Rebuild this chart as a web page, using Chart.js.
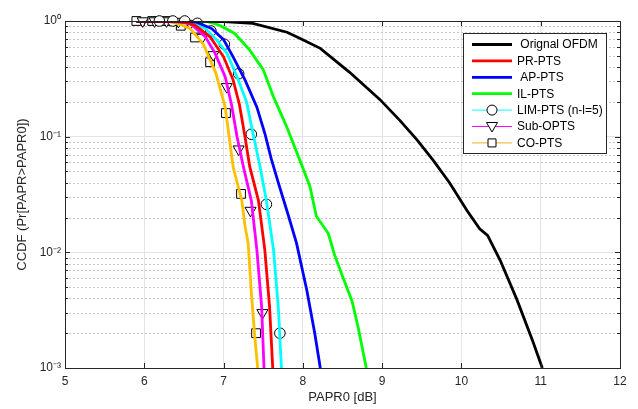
<!DOCTYPE html>
<html>
<head>
<meta charset="utf-8">
<script src="https://cdn.jsdelivr.net/npm/chart.js@4/dist/chart.umd.min.js"></script>
<style>
  html, body { margin: 0; padding: 0; background: #fff; }
</style>
</head>
<body>
<canvas id="myChart" width="638" height="409"></canvas>
<script>
// curves (x = PAPR0 in dB, y = CCDF)
const origX = [5.9, 6.6, 7.0, 7.37, 7.8, 7.96, 8.22, 8.59, 8.97, 9.22, 9.44, 9.64, 9.85, 10.07, 10.23, 10.33, 10.49, 10.7, 10.9, 11.02];
const origY = [1, 1, 0.99, 0.955, 0.8, 0.71, 0.58, 0.36, 0.21, 0.139, 0.094, 0.063, 0.04, 0.023, 0.016, 0.014, 0.0085, 0.0039, 0.0017, 0.001];

const prX = [5.9, 6.45, 6.64, 6.83, 7.0, 7.12, 7.2, 7.27, 7.33, 7.44, 7.52, 7.58, 7.62];
const prY = [1, 0.99, 0.92, 0.73, 0.49, 0.31, 0.19, 0.1, 0.055, 0.028, 0.0105, 0.0034, 0.001];

const apX = [5.9, 6.65, 6.85, 7.0, 7.12, 7.27, 7.42, 7.52, 7.6, 7.69, 7.82, 7.92, 8.05, 8.15, 8.22];
const apY = [1, 0.98, 0.86, 0.69, 0.49, 0.31, 0.18, 0.107, 0.065, 0.04, 0.0205, 0.012, 0.0047, 0.002, 0.001];

const ilX = [5.9, 6.79, 6.95, 7.14, 7.33, 7.5, 7.63, 7.72, 7.8, 7.96, 8.09, 8.17, 8.32, 8.4, 8.5, 8.62, 8.7, 8.8];
const ilY = [1, 0.99, 0.92, 0.78, 0.56, 0.38, 0.22, 0.16, 0.12, 0.063, 0.037, 0.0205, 0.0146, 0.0095, 0.0062, 0.0038, 0.0022, 0.001];

const limX = [5.9, 6.55, 6.77, 6.91, 7.04, 7.17, 7.29, 7.38, 7.46, 7.54, 7.63, 7.69, 7.73];
const limY = [1, 0.99, 0.86, 0.69, 0.53, 0.33, 0.2, 0.1, 0.055, 0.028, 0.0105, 0.0034, 0.001];
const limMarkX = [6.19, 6.36, 6.51, 6.67, 6.84, 7.01, 7.19, 7.35, 7.54, 7.71];
const limMarkY = [1, 1, 1, 0.955, 0.82, 0.63, 0.35, 0.105, 0.026, 0.002];

const subX = [5.9, 6.4, 6.58, 6.77, 6.89, 7.02, 7.1, 7.17, 7.25, 7.35, 7.42, 7.48, 7.51];
const subY = [1, 0.995, 0.95, 0.73, 0.53, 0.33, 0.19, 0.1, 0.055, 0.028, 0.0105, 0.0034, 0.001];
const subMarkX = [5.98, 6.13, 6.28, 6.43, 6.58, 6.73, 6.87, 7.04, 7.19, 7.34, 7.49];
const subMarkY = [1, 1, 1, 0.99, 0.95, 0.72, 0.51, 0.27, 0.078, 0.023, 0.003];

const coX = [5.9, 6.3, 6.46, 6.58, 6.65, 6.74, 6.83, 6.9, 6.95, 7.02, 7.07, 7.12, 7.18, 7.23, 7.27, 7.31, 7.35, 7.39, 7.43];
const coY = [1, 0.995, 0.93, 0.86, 0.75, 0.64, 0.46, 0.36, 0.27, 0.18, 0.1, 0.055, 0.038, 0.028, 0.017, 0.012, 0.0045, 0.002, 0.001];
const coMarkX = [5.9, 6.1, 6.28, 6.46, 6.64, 6.83, 7.03, 7.22, 7.41];
const coMarkY = [1, 1, 1, 0.91, 0.72, 0.44, 0.16, 0.032, 0.002];

const xTicks = [5, 6, 7, 8, 9, 10, 11, 12];
const yDecades = [-3, -2, -1, 0];

const pts = (xs, ys) => xs.map((x, i) => ({ x: x, y: ys[i] }));

const FONT = "'Liberation Sans', Arial, Helvetica, sans-serif";
const AXIS = "#262626";

function lineSet(label, xs, ys, color) {
  return {
    label: label,
    data: pts(xs, ys),
    borderColor: color,
    backgroundColor: color,
    borderWidth: 2.8,
    pointRadius: 0,
    tension: 0,
  };
}

function markSet(label, xs, ys, style, r, rot) {
  return {
    label: label,
    data: pts(xs, ys),
    showLine: false,
    pointStyle: style,
    pointRadius: r,
    pointRotation: rot || 0,
    pointBackgroundColor: "#fff",
    pointBorderColor: "#000",
    pointBorderWidth: 1,
    clip: false,
  };
}

const legendItems = [
  { text: " Orignal OFDM", color: "#000", width: 2.8 },
  { text: "PR-PTS", color: "#ff0000", width: 2.8 },
  { text: " AP-PTS", color: "#0000ff", width: 2.8 },
  { text: "IL-PTS", color: "#00ff00", width: 2.8 },
  { text: "LIM-PTS (n-l=5)", color: "#00ffff", width: 1, marker: "circle" },
  { text: "Sub-OPTS", color: "#ff00ff", width: 1, marker: "triangle" },
  { text: "CO-PTS", color: "#edb120", width: 1, marker: "rect" },
];

function drawMarker(ctx, kind, x, y) {
  ctx.save();
  ctx.fillStyle = "#fff";
  ctx.strokeStyle = "#000";
  ctx.lineWidth = 1;
  ctx.beginPath();
  if (kind === "circle") {
    ctx.arc(x, y, 5, 0, Math.PI * 2);
  } else if (kind === "triangle") {
    ctx.moveTo(x - 5.5, y - 4);
    ctx.lineTo(x + 5.5, y - 4);
    ctx.lineTo(x, y + 5.5);
    ctx.closePath();
  } else {
    ctx.rect(x - 4, y - 4, 8, 8);
  }
  ctx.fill();
  ctx.stroke();
  ctx.restore();
}

const isMajor = (v) => Math.abs(Math.log10(v) - Math.round(Math.log10(v))) < 1e-9;

const framePlugin = {
  id: "frame",
  beforeDatasetsDraw(chart) {
    // dotted minor grid on the log axis
    const { ctx, chartArea: a, scales } = chart;
    ctx.save();
    ctx.strokeStyle = "#c8c8c8";
    ctx.lineWidth = 1;
    ctx.setLineDash([2, 2]);
    scales.y.ticks.forEach((t) => {
      if (isMajor(t.value)) return;
      const py = Math.round(scales.y.getPixelForValue(t.value)) + 0.5;
      ctx.beginPath();
      ctx.moveTo(a.left, py);
      ctx.lineTo(a.right, py);
      ctx.stroke();
    });
    ctx.restore();
  },
  afterDatasetsDraw(chart) {
    const { ctx, chartArea: a, scales } = chart;
    ctx.save();
    ctx.strokeStyle = AXIS;
    ctx.lineWidth = 1;
    ctx.setLineDash([]);
    ctx.beginPath();
    xTicks.forEach((v) => {
      const px = Math.round(scales.x.getPixelForValue(v)) + 0.5;
      ctx.moveTo(px, a.bottom); ctx.lineTo(px, a.bottom - 5);
      ctx.moveTo(px, a.top); ctx.lineTo(px, a.top + 5);
    });
    scales.y.ticks.forEach((t) => {
      const py = Math.round(scales.y.getPixelForValue(t.value)) + 0.5;
      const len = isMajor(t.value) ? 5 : 3;
      ctx.moveTo(a.left, py); ctx.lineTo(a.left + len, py);
      ctx.moveTo(a.right, py); ctx.lineTo(a.right - len, py);
    });
    ctx.stroke();
    ctx.strokeRect(Math.round(a.left) + 0.5, Math.round(a.top) + 0.5,
      Math.round(a.right - a.left), Math.round(a.bottom - a.top));
    ctx.restore();
  },
  afterDraw(chart) {
    const ctx = chart.ctx;
    const bx = 463.5, by = 33.5, bw = 143, bh = 120;
    ctx.save();
    ctx.fillStyle = "#fff";
    ctx.fillRect(bx, by, bw, bh);
    ctx.strokeStyle = AXIS;
    ctx.lineWidth = 1;
    ctx.strokeRect(bx, by, bw, bh);
    ctx.font = "12px " + FONT;
    ctx.textBaseline = "middle";
    ctx.fillStyle = "#000";
    legendItems.forEach((it, i) => {
      const y = 44.5 + i * 16.4;
      ctx.strokeStyle = it.color;
      ctx.lineWidth = it.width;
      ctx.beginPath();
      ctx.moveTo(472, y);
      ctx.lineTo(512, y);
      ctx.stroke();
      if (it.marker) drawMarker(ctx, it.marker, 492, y);
      ctx.fillStyle = "#000";
      ctx.fillText(it.text, 517, y + 0.5);
    });
    ctx.restore();
  },
};

const sup = { "0": "\u2070", "1": "\u00b9", "2": "\u00b2", "3": "\u00b3", "-": "\u207b" };

new Chart(document.getElementById("myChart").getContext("2d"), {
  type: "line",
  data: {
    datasets: [
      lineSet("Orignal OFDM", origX, origY, "#000000"),
      lineSet("PR-PTS", prX, prY, "#ff0000"),
      lineSet("AP-PTS", apX, apY, "#0000ff"),
      lineSet("IL-PTS", ilX, ilY, "#00ff00"),
      lineSet("LIM-PTS (n-l=5)", limX, limY, "#00ffff"),
      lineSet("Sub-OPTS", subX, subY, "#ff00ff"),
      lineSet("CO-PTS", coX, coY, "#ffc000"),
      markSet("LIM-PTS marks", limMarkX, limMarkY, "circle", 5.3),
      markSet("Sub-OPTS marks", subMarkX, subMarkY, "triangle", 6.4, 180),
      markSet("CO-PTS marks", coMarkX, coMarkY, "rect", 6.2),
    ],
  },
  options: {
    responsive: false,
    animation: false,
    events: [],
    layout: { padding: { top: 21, right: 18, left: 0, bottom: 0 } },
    plugins: { legend: { display: false }, tooltip: { enabled: false } },
    scales: {
      x: {
        type: "linear",
        min: 5,
        max: 12,
        afterBuildTicks: (s) => { s.ticks = xTicks.map((v) => ({ value: v })); },
        afterFit: (s) => { s.height = 41; },
        ticks: { font: { family: FONT, size: 12 }, color: AXIS, padding: 6 },
        grid: { color: "#e3e3e3", drawTicks: false },
        border: { display: false },
        title: {
          display: true,
          text: "PAPR0 [dB]",
          font: { family: FONT, size: 13 },
          color: AXIS,
          padding: { top: 0, bottom: 4 },
        },
      },
      y: {
        type: "logarithmic",
        min: 0.001,
        max: 1,
        afterBuildTicks: (s) => {
          const t = [];
          yDecades.forEach((e) => {
            for (let k = 1; k <= 9; k++) {
              const v = k * Math.pow(10, e);
              if (v <= 1.0000001) t.push({ value: v });
            }
          });
          s.ticks = t;
        },
        afterFit: (s) => { s.width = 65; },
        ticks: {
          autoSkip: false,
          font: { family: FONT, size: 12 },
          color: AXIS,
          padding: 4,
          callback: (v) => {
            if (!isMajor(v)) return "";
            const e = Math.round(Math.log10(v));
            return "10" + String(e).split("").map((c) => sup[c]).join("");
          },
        },
        grid: {
          drawTicks: false,
          color: (c) => (c.tick && isMajor(c.tick.value) ? "#e3e3e3" : "rgba(0,0,0,0)"),
        },
        border: { display: false },
        title: {
          display: true,
          text: "CCDF (Pr[PAPR>PAPR0])",
          font: { family: FONT, size: 13 },
          color: AXIS,
          padding: { top: 15, bottom: 0 },
        },
      },
    },
  },
  plugins: [framePlugin],
});
</script>
</body>
</html>
